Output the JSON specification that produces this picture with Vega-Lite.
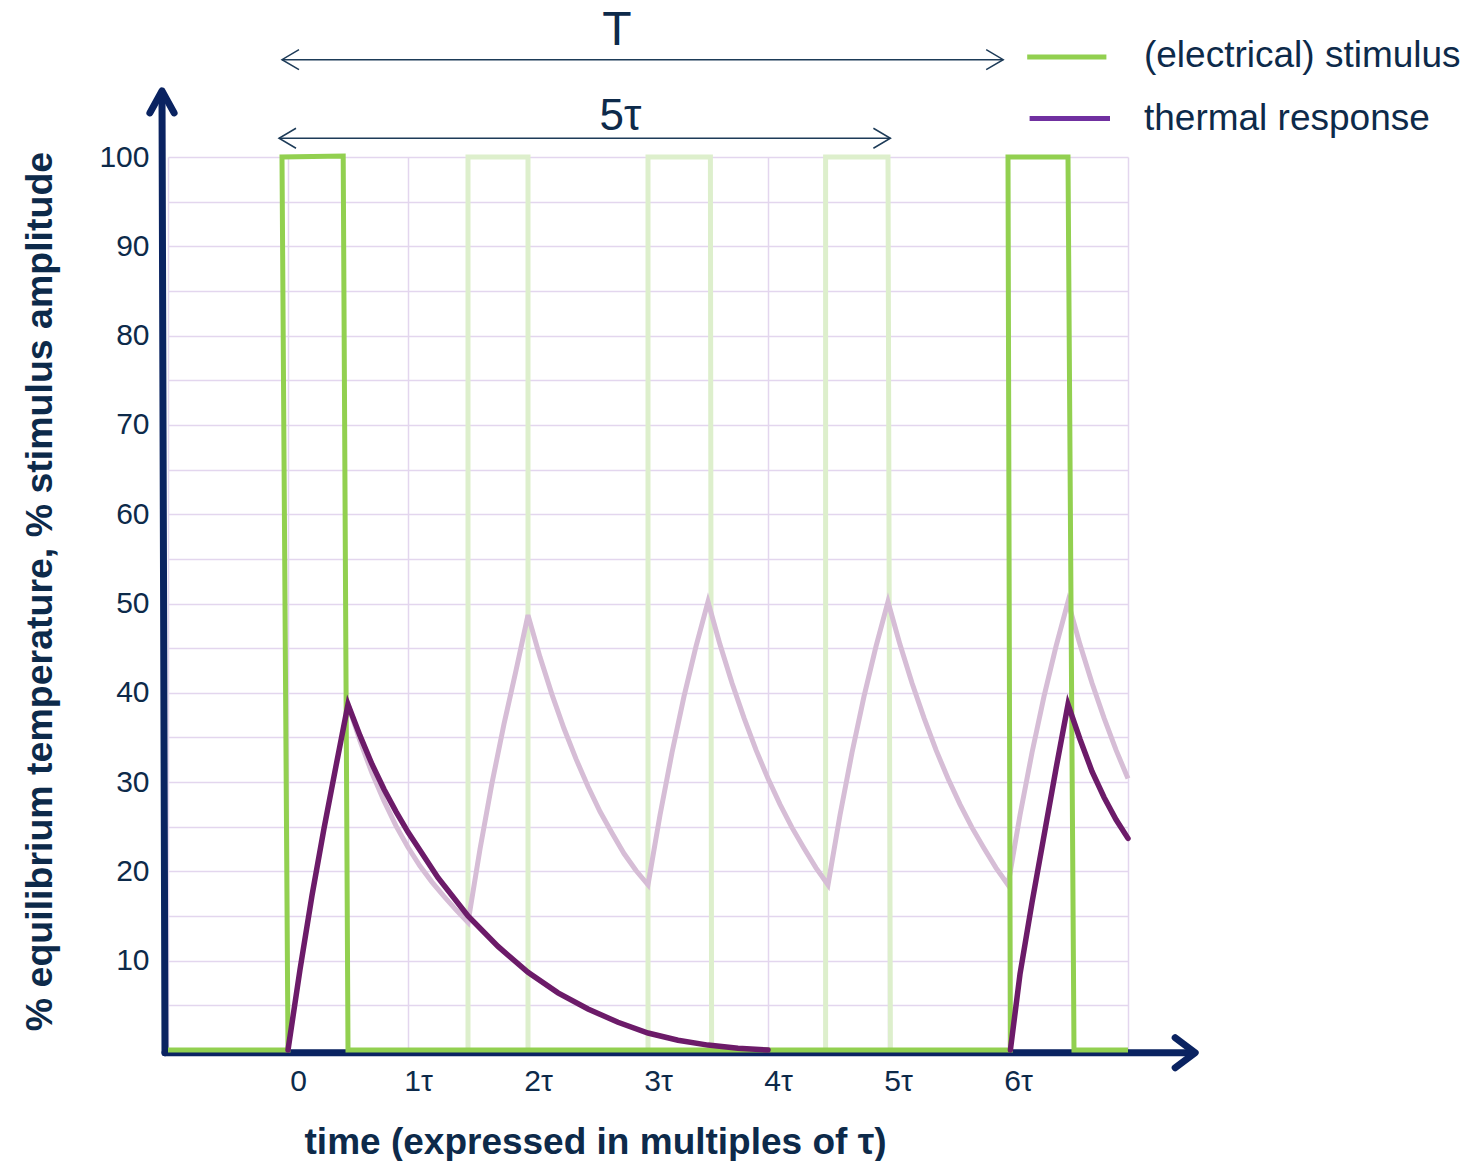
{
  "$schema": "https://vega.github.io/schema/vega-lite/v6.json",
  "width": 960,
  "height": 893,
  "autosize": {"type": "none"},
  "padding": {"left": 168, "top": 157, "right": 348, "bottom": 111},
  "background": "white",
  "config": {"view": {"stroke": null}, "font": "Liberation Sans"},
  "datasets": {
    "stimFaint": [
      {"s": 1, "t": 1.5, "v": 0}, {"s": 1, "t": 1.5, "v": 100}, {"s": 1, "t": 2.0, "v": 100}, {"s": 1, "t": 2.0, "v": 0},
      {"s": 2, "t": 3.0, "v": 0}, {"s": 2, "t": 3.0, "v": 100}, {"s": 2, "t": 3.52, "v": 100}, {"s": 2, "t": 3.53, "v": 0},
      {"s": 3, "t": 4.48, "v": 0}, {"s": 3, "t": 4.48, "v": 100}, {"s": 3, "t": 5.0, "v": 100}, {"s": 3, "t": 5.02, "v": 0}
    ],
    "stimBold": [
      {"t": -1.0, "v": 0}, {"t": 0.0, "v": 0}, {"t": -0.05, "v": 100}, {"t": 0.46, "v": 100.1}, {"t": 0.5, "v": 0},
      {"t": 6.02, "v": 0}, {"t": 6.0, "v": 100}, {"t": 6.5, "v": 100}, {"t": 6.55, "v": 0}, {"t": 7.0, "v": 0}
    ],
    "respFaint": [
      {"t": 0.5, "v": 38.7}, {"t": 0.6, "v": 34.6}, {"t": 0.7, "v": 31.0}, {"t": 0.8, "v": 27.9}, {"t": 0.9, "v": 25.1},
      {"t": 1.0, "v": 22.7}, {"t": 1.1, "v": 20.6}, {"t": 1.2, "v": 18.8}, {"t": 1.3, "v": 17.2}, {"t": 1.4, "v": 15.7},
      {"t": 1.5, "v": 14.3}, {"t": 1.6, "v": 22.5}, {"t": 1.7, "v": 29.9}, {"t": 1.8, "v": 36.5}, {"t": 1.9, "v": 42.5},
      {"t": 2.0, "v": 48.7}, {"t": 2.1, "v": 44.0}, {"t": 2.2, "v": 39.8}, {"t": 2.3, "v": 36.0}, {"t": 2.4, "v": 32.6},
      {"t": 2.5, "v": 29.5}, {"t": 2.6, "v": 26.7}, {"t": 2.7, "v": 24.3}, {"t": 2.8, "v": 22.0}, {"t": 2.9, "v": 20.1},
      {"t": 3.0, "v": 18.5}, {"t": 3.1, "v": 26.3}, {"t": 3.2, "v": 33.3}, {"t": 3.3, "v": 39.6}, {"t": 3.4, "v": 45.2},
      {"t": 3.5, "v": 50.2}, {"t": 3.6, "v": 45.4}, {"t": 3.7, "v": 41.1}, {"t": 3.8, "v": 37.2}, {"t": 3.9, "v": 33.6},
      {"t": 4.0, "v": 30.4}, {"t": 4.1, "v": 27.5}, {"t": 4.2, "v": 24.9}, {"t": 4.3, "v": 22.6}, {"t": 4.4, "v": 20.4},
      {"t": 4.5, "v": 18.5}, {"t": 4.6, "v": 26.3}, {"t": 4.7, "v": 33.3}, {"t": 4.8, "v": 39.6}, {"t": 4.9, "v": 45.2},
      {"t": 5.0, "v": 50.2}, {"t": 5.1, "v": 45.4}, {"t": 5.2, "v": 41.1}, {"t": 5.3, "v": 37.2}, {"t": 5.4, "v": 33.6},
      {"t": 5.5, "v": 30.4}, {"t": 5.6, "v": 27.5}, {"t": 5.7, "v": 24.9}, {"t": 5.8, "v": 22.6}, {"t": 5.9, "v": 20.4},
      {"t": 6.0, "v": 18.5}, {"t": 6.1, "v": 26.3}, {"t": 6.2, "v": 33.3}, {"t": 6.3, "v": 39.6}, {"t": 6.4, "v": 45.2},
      {"t": 6.5, "v": 50.2}, {"t": 6.6, "v": 45.4}, {"t": 6.7, "v": 41.1}, {"t": 6.8, "v": 37.2}, {"t": 6.9, "v": 33.6},
      {"t": 7.0, "v": 30.4}
    ],
    "respBold": [
      {"s": 1, "t": 0.0, "v": 0}, {"s": 1, "t": 0.1, "v": 9.0}, {"s": 1, "t": 0.2, "v": 17.3}, {"s": 1, "t": 0.3, "v": 24.8},
      {"s": 1, "t": 0.4, "v": 31.8}, {"s": 1, "t": 0.5, "v": 38.7}, {"s": 1, "t": 0.6, "v": 35.2}, {"s": 1, "t": 0.7, "v": 32.0},
      {"s": 1, "t": 0.8, "v": 29.2}, {"s": 1, "t": 0.9, "v": 26.7}, {"s": 1, "t": 1.0, "v": 24.4}, {"s": 1, "t": 1.25, "v": 19.3},
      {"s": 1, "t": 1.5, "v": 15.0}, {"s": 1, "t": 1.75, "v": 11.6}, {"s": 1, "t": 2.0, "v": 8.7}, {"s": 1, "t": 2.25, "v": 6.4},
      {"s": 1, "t": 2.5, "v": 4.6}, {"s": 1, "t": 2.75, "v": 3.1}, {"s": 1, "t": 3.0, "v": 1.9}, {"s": 1, "t": 3.25, "v": 1.1},
      {"s": 1, "t": 3.5, "v": 0.55}, {"s": 1, "t": 3.75, "v": 0.2}, {"s": 1, "t": 4.0, "v": 0},
      {"s": 2, "t": 6.02, "v": 0}, {"s": 2, "t": 6.1, "v": 8.5}, {"s": 2, "t": 6.2, "v": 16.5}, {"s": 2, "t": 6.3, "v": 24.0},
      {"s": 2, "t": 6.4, "v": 31.5}, {"s": 2, "t": 6.5, "v": 38.7}, {"s": 2, "t": 6.6, "v": 34.8}, {"s": 2, "t": 6.7, "v": 31.2},
      {"s": 2, "t": 6.8, "v": 28.3}, {"s": 2, "t": 6.9, "v": 25.8}, {"s": 2, "t": 7.0, "v": 23.7}
    ],
    "axisLines": [
      {"t": -1.025, "t2": -1.05, "v": -0.3, "v2": 107.0},
      {"t": -1.025, "t2": 7.52, "v": -0.3, "v2": -0.3}
    ],
    "yTip": [{"t": -1.05, "v": 107.4}],
    "xTip": [{"t": 7.56, "v": -0.3}],
    "spanArrows": [
      {"t": -0.05, "t2": 5.96, "v": 110.9},
      {"t": -0.075, "t2": 5.02, "v": 102.1}
    ],
    "spanLeft": [{"t": -0.05, "v": 110.9}, {"t": -0.075, "v": 102.1}],
    "spanRight": [{"t": 5.96, "v": 110.9}, {"t": 5.02, "v": 102.1}],
    "spanT": [{"t": 2.74, "v": 112.5, "label": "T"}],
    "span5": [{"t": 2.77, "v": 103.0, "label": "5τ"}],
    "legendLines": [
      {"series": "stimulus", "t": 6.16, "t2": 6.82, "v": 111.2},
      {"series": "response", "t": 6.18, "t2": 6.85, "v": 104.3}
    ],
    "legendText": [
      {"t": 7.133, "v": 110.1, "label": "(electrical) stimulus"},
      {"t": 7.133, "v": 103.0, "label": "thermal response"}
    ]
  },
  "encoding": {
    "x": {
      "field": "t", "type": "quantitative",
      "scale": {"domain": [-1, 7], "nice": false, "zero": false},
      "axis": {
        "values": [-1, 0, 1, 2, 3, 4, 5, 6, 7],
        "grid": true, "gridColor": "#e3d6ee", "gridWidth": 1.5,
        "domain": false, "ticks": false,
        "labelExpr": "datum.value == 0 ? '0' : (datum.value >= 1 && datum.value <= 6 ? datum.value + 'τ' : '')",
        "labelFontSize": 30, "labelColor": "#0d2a4a", "labelPadding": 16, "labelOffset": 10,
        "title": "time (expressed in multiples of τ)",
        "titleFontSize": 37, "titleFontWeight": "bold", "titleColor": "#0d2a4a",
        "titleX": 427, "titleY": 92, "titleBaseline": "middle", "titleAlign": "center"
      }
    },
    "y": {
      "field": "v", "type": "quantitative",
      "scale": {"domain": [0, 100], "nice": false, "zero": false},
      "axis": {
        "values": [0, 5, 10, 15, 20, 25, 30, 35, 40, 45, 50, 55, 60, 65, 70, 75, 80, 85, 90, 95, 100],
        "grid": true, "gridColor": "#e3d6ee", "gridWidth": 1.5,
        "domain": false, "ticks": false,
        "labelExpr": "datum.value > 0 && datum.value % 10 == 0 ? datum.label : ''",
        "labelFontSize": 30, "labelColor": "#0d2a4a", "labelPadding": 19,
        "title": "% equilibrium temperature, % stimulus amplitude",
        "titleFontSize": 37.5, "titleFontWeight": "bold", "titleColor": "#0d2a4a",
        "titleX": -128, "titleY": 434, "titleBaseline": "middle", "titleAlign": "center", "titleAngle": -90
      }
    }
  },
  "layer": [
    {"data": {"name": "stimFaint"}, "mark": {"type": "line", "color": "#ddefcc", "strokeWidth": 5},
     "encoding": {"detail": {"field": "s"}, "order": {"value": null}}},
    {"data": {"name": "respFaint"}, "mark": {"type": "line", "color": "#d6bdd6", "strokeWidth": 5},
     "encoding": {"order": {"value": null}}},
    {"data": {"name": "axisLines"}, "mark": {"type": "rule", "color": "#0a2361", "strokeWidth": 7, "strokeCap": "round"},
     "encoding": {"x2": {"field": "t2"}, "y2": {"field": "v2"}}},
    {"data": {"name": "yTip"}, "mark": {"type": "point", "shape": "M-0.55,1L0,0L0.55,1", "size": 1936, "filled": false, "stroke": "#0a2361", "strokeWidth": 7, "strokeCap": "round", "strokeJoin": "round", "opacity": 1}},
    {"data": {"name": "xTip"}, "mark": {"type": "point", "shape": "M-1,-0.75L0,0L-1,0.75", "size": 1600, "filled": false, "stroke": "#0a2361", "strokeWidth": 7, "strokeCap": "round", "strokeJoin": "round", "opacity": 1}},
    {"data": {"name": "stimBold"}, "mark": {"type": "line", "color": "#92d050", "strokeWidth": 5},
     "encoding": {"order": {"value": null}}},
    {"data": {"name": "respBold"}, "mark": {"type": "line", "color": "#6c1b69", "strokeWidth": 5.5, "strokeCap": "round"},
     "encoding": {"detail": {"field": "s"}, "order": {"value": null}}},
    {"data": {"name": "spanArrows"}, "mark": {"type": "rule", "color": "#1d3b58", "strokeWidth": 1.5},
     "encoding": {"x2": {"field": "t2"}}},
    {"data": {"name": "spanLeft"}, "mark": {"type": "point", "shape": "M1.7,-1L0,0L1.7,1", "size": 400, "filled": false, "stroke": "#1d3b58", "strokeWidth": 1.5, "opacity": 1}},
    {"data": {"name": "spanRight"}, "mark": {"type": "point", "shape": "M-1.7,-1L0,0L-1.7,1", "size": 400, "filled": false, "stroke": "#1d3b58", "strokeWidth": 1.5, "opacity": 1}},
    {"data": {"name": "spanT"}, "mark": {"type": "text", "fontSize": 48, "color": "#0d2a4a", "align": "center", "baseline": "alphabetic"},
     "encoding": {"text": {"field": "label"}}},
    {"data": {"name": "span5"}, "mark": {"type": "text", "fontSize": 44, "color": "#0d2a4a", "align": "center", "baseline": "alphabetic"},
     "encoding": {"text": {"field": "label"}}},
    {"data": {"name": "legendLines"}, "mark": {"type": "rule", "strokeWidth": 5},
     "encoding": {"x2": {"field": "t2"},
       "color": {"field": "series", "type": "nominal", "scale": {"domain": ["stimulus", "response"], "range": ["#92d050", "#7030a0"]}, "legend": null}}},
    {"data": {"name": "legendText"}, "mark": {"type": "text", "fontSize": 37, "color": "#0d2a4a", "align": "left", "baseline": "alphabetic"},
     "encoding": {"text": {"field": "label"}}}
  ]
}
